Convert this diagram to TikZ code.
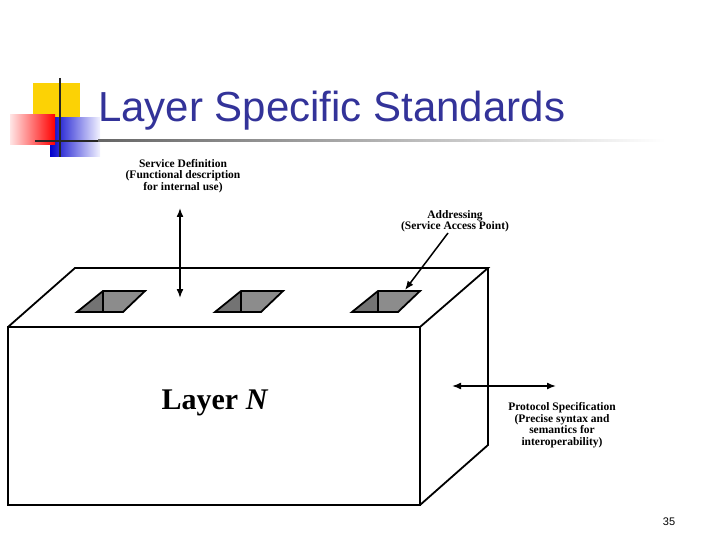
\documentclass[tikz,border=0pt]{standalone}
\usepackage{fontspec}
\setmainfont{Liberation Serif}
\setsansfont{Liberation Sans}
\usetikzlibrary{arrows.meta}
\definecolor{titleblue}{RGB}{51,51,153}
\begin{document}
\begin{tikzpicture}[x=1pt,y=-1pt,
  edge/.style={line width=1.8pt,line join=miter},
  lbl/.style={font=\bfseries\fontsize{11.5}{11.5}\selectfont,align=center,inner sep=0pt},
  arr/.style={line width=1.5pt,-{Latex[length=9pt,width=7pt]}}]
\useasboundingbox (0,0) rectangle (720,540);
% logo
\fill[yellow!70!orange] (33,83) rectangle (80,122);
\shade[left color=blue!80!black,right color=blue!5] (50,118) rectangle (100,157);
\shade[left color=red!10,right color=red] (10,115) rectangle (55,145);
\draw[line width=1.8pt,black!85] (60,78) -- (60,157);
\draw[line width=1.5pt,black!85] (35,141) -- (98,141);
\shade[left color=black!60,right color=white] (98,140) rectangle (665,142);
\node[anchor=west,font=\sffamily\fontsize{42}{44}\selectfont,text=titleblue,inner sep=0pt] (title) at (98,111) {Layer Specific Standards};
% box
\draw[edge] (8,327) rectangle (420,505);
\draw[edge] (8,327) -- (75,268) -- (488,268) -- (420,327);
\draw[edge] (420,505) -- (488,445) -- (488,268);
% holes
\foreach \dx in {0,138,275}{
  \begin{scope}[xshift=\dx]
  \fill[black!55] (77,312) -- (103,291) -- (103,312) -- cycle;
  \fill[black!45] (103,291) -- (145,291) -- (123,312) -- (103,312) -- cycle;
  \draw[line width=1.8pt] (77,312) -- (103,291) -- (145,291) -- (123,312) -- cycle;
  \draw[line width=1.8pt] (103,291) -- (103,312);
  \end{scope}}
\node[font=\bfseries\fontsize{30}{32}\selectfont] (layer) at (215,403) {Layer \textit{N}};
\node[lbl] (sd) at (183,176) {Service Definition\\(Functional description\\for internal use)};
\node[lbl] (ad) at (455,221) {Addressing\\(Service Access Point)};
\node[lbl] (ps) at (562,425) {Protocol Specification\\(Precise syntax and\\semantics for\\interoperability)};
\coordinate (u1) at (180,208); \coordinate (u2) at (180,298);
\draw[arr,{Latex[length=9pt,width=7pt]}-{Latex[length=9pt,width=7pt]}] (u1) -- (u2);
\coordinate (a1) at (448,233); \coordinate (a2) at (405,290);
\draw[arr] (a1) -- (a2);
\coordinate (p1) at (452,386); \coordinate (p2) at (556,386);
\draw[arr,{Latex[length=9pt,width=7pt]}-{Latex[length=9pt,width=7pt]}] (p1) -- (p2);
\node[font=\sffamily\fontsize{11}{12}\selectfont] (pg) at (669,522) {35};
\end{tikzpicture}
\end{document}
